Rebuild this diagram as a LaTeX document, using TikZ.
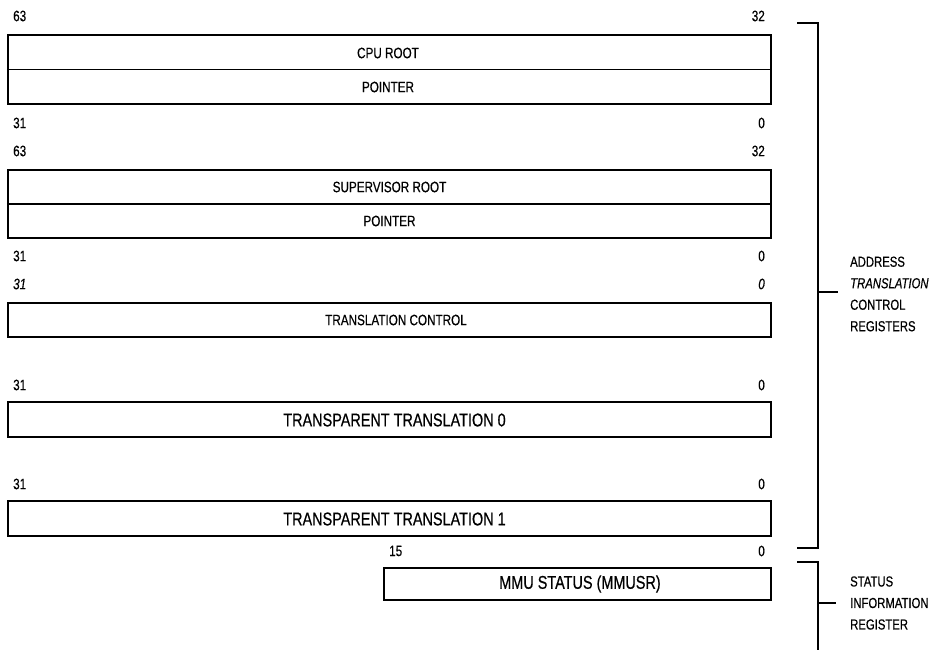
\documentclass[tikz,border=0pt]{standalone}
\usepackage{fontspec}
\setmainfont{Liberation Sans}[FakeStretch=0.78,FakeBold=0.5]
\begin{document}
\begin{tikzpicture}[x=1pt,y=-1pt,
  reg/.style={draw, line width=2.2pt, rectangle, inner sep=0pt, minimum width=763pt},
  small/.style={font=\fontsize{15}{17}\selectfont, inner sep=0pt},
  big/.style={font=\fontsize{18.5}{21}\selectfont, inner sep=0pt},
  bitl/.style={small, anchor=west},
  bitr/.style={small, anchor=east},
  brk/.style={line width=1.3pt},
  side/.style={font=\fontsize{14.5}{21.5}\selectfont, align=left, anchor=west, inner sep=0pt}
]
\useasboundingbox (0,0) rectangle (948,650);

% CPU root pointer
\node[bitl] (c63) at (13,16) {63};
\node[bitr] (c32) at (765,16) {32};
\node[reg, minimum height=69pt] (crp) at (389.5,69.5) {};
\draw[line width=1.6pt] (crp.west) -- (crp.east);
\node[small] (crpa) at (388,53) {CPU ROOT};
\node[small] (crpb) at (388,87) {POINTER};
\node[bitl] (c31) at (13,123) {31};
\node[bitr] (c0) at (765,123) {0};

% Supervisor root pointer
\node[bitl] (s63) at (13,151) {63};
\node[bitr] (s32) at (765,151) {32};
\node[reg, minimum height=68pt] (srp) at (389.5,204) {};
\draw[line width=1.6pt] (srp.west) -- (srp.east);
\node[small] (srpa) at (389.5,187) {SUPERVISOR ROOT};
\node[small] (srpb) at (389.5,221) {POINTER};
\node[bitl] (s31) at (13,256) {31};
\node[bitr] (s0) at (765,256) {0};

% Translation control
\node[bitl] (t31) at (13,284) {\itshape 31};
\node[bitr] (t0) at (765,284) {\itshape 0};
\node[reg, minimum height=34pt] (tc) at (389.5,320) {};
\node[small] (tct) at (396,320) {TRANSLATION CONTROL};

% Transparent translation 0
\node[bitl] (a31) at (13,385) {31};
\node[bitr] (a0) at (765,385) {0};
\node[reg, minimum height=35pt] (tt0) at (389.5,419.5) {};
\node[big] (tt0t) at (394.5,420) {TRANSPARENT TRANSLATION 0};

% Transparent translation 1
\node[bitl] (b31) at (13,484) {31};
\node[bitr] (b0) at (765,484) {0};
\node[reg, minimum height=35pt] (tt1) at (389.5,518.5) {};
\node[big] (tt1t) at (394.5,519) {TRANSPARENT TRANSLATION 1};

% MMU status
\node[bitl] (m15) at (389,551) {15};
\node[bitr] (m0) at (765,551) {0};
\node[reg, minimum width=387pt, minimum height=32pt] (mmu) at (577.5,584) {};
\node[big] (mmut) at (580,584) {MMU STATUS (MMUSR)};

% Brackets
\coordinate (aTop) at (797,23);
\coordinate (aBot) at (797,548);
\coordinate (aTick) at (818,292);
\draw[brk] (aTop) -- ++(21,0) |- (aBot);
\draw[brk] (aTick) -- ++(20,0);
\node[side] (atcr) at (850,294) {ADDRESS\\\itshape TRANSLATION\\CONTROL\\REGISTERS};

\coordinate (sTop) at (797,562);
\coordinate (sBot) at (818,650);
\coordinate (sTick) at (818,603);
\draw[brk] (sTop) -- ++(21,0) -- (sBot);
\draw[brk] (sTick) -- ++(18,0);
\node[side] (sir) at (850,603) {STATUS\\INFORMATION\\REGISTER};
\end{tikzpicture}
\end{document}
